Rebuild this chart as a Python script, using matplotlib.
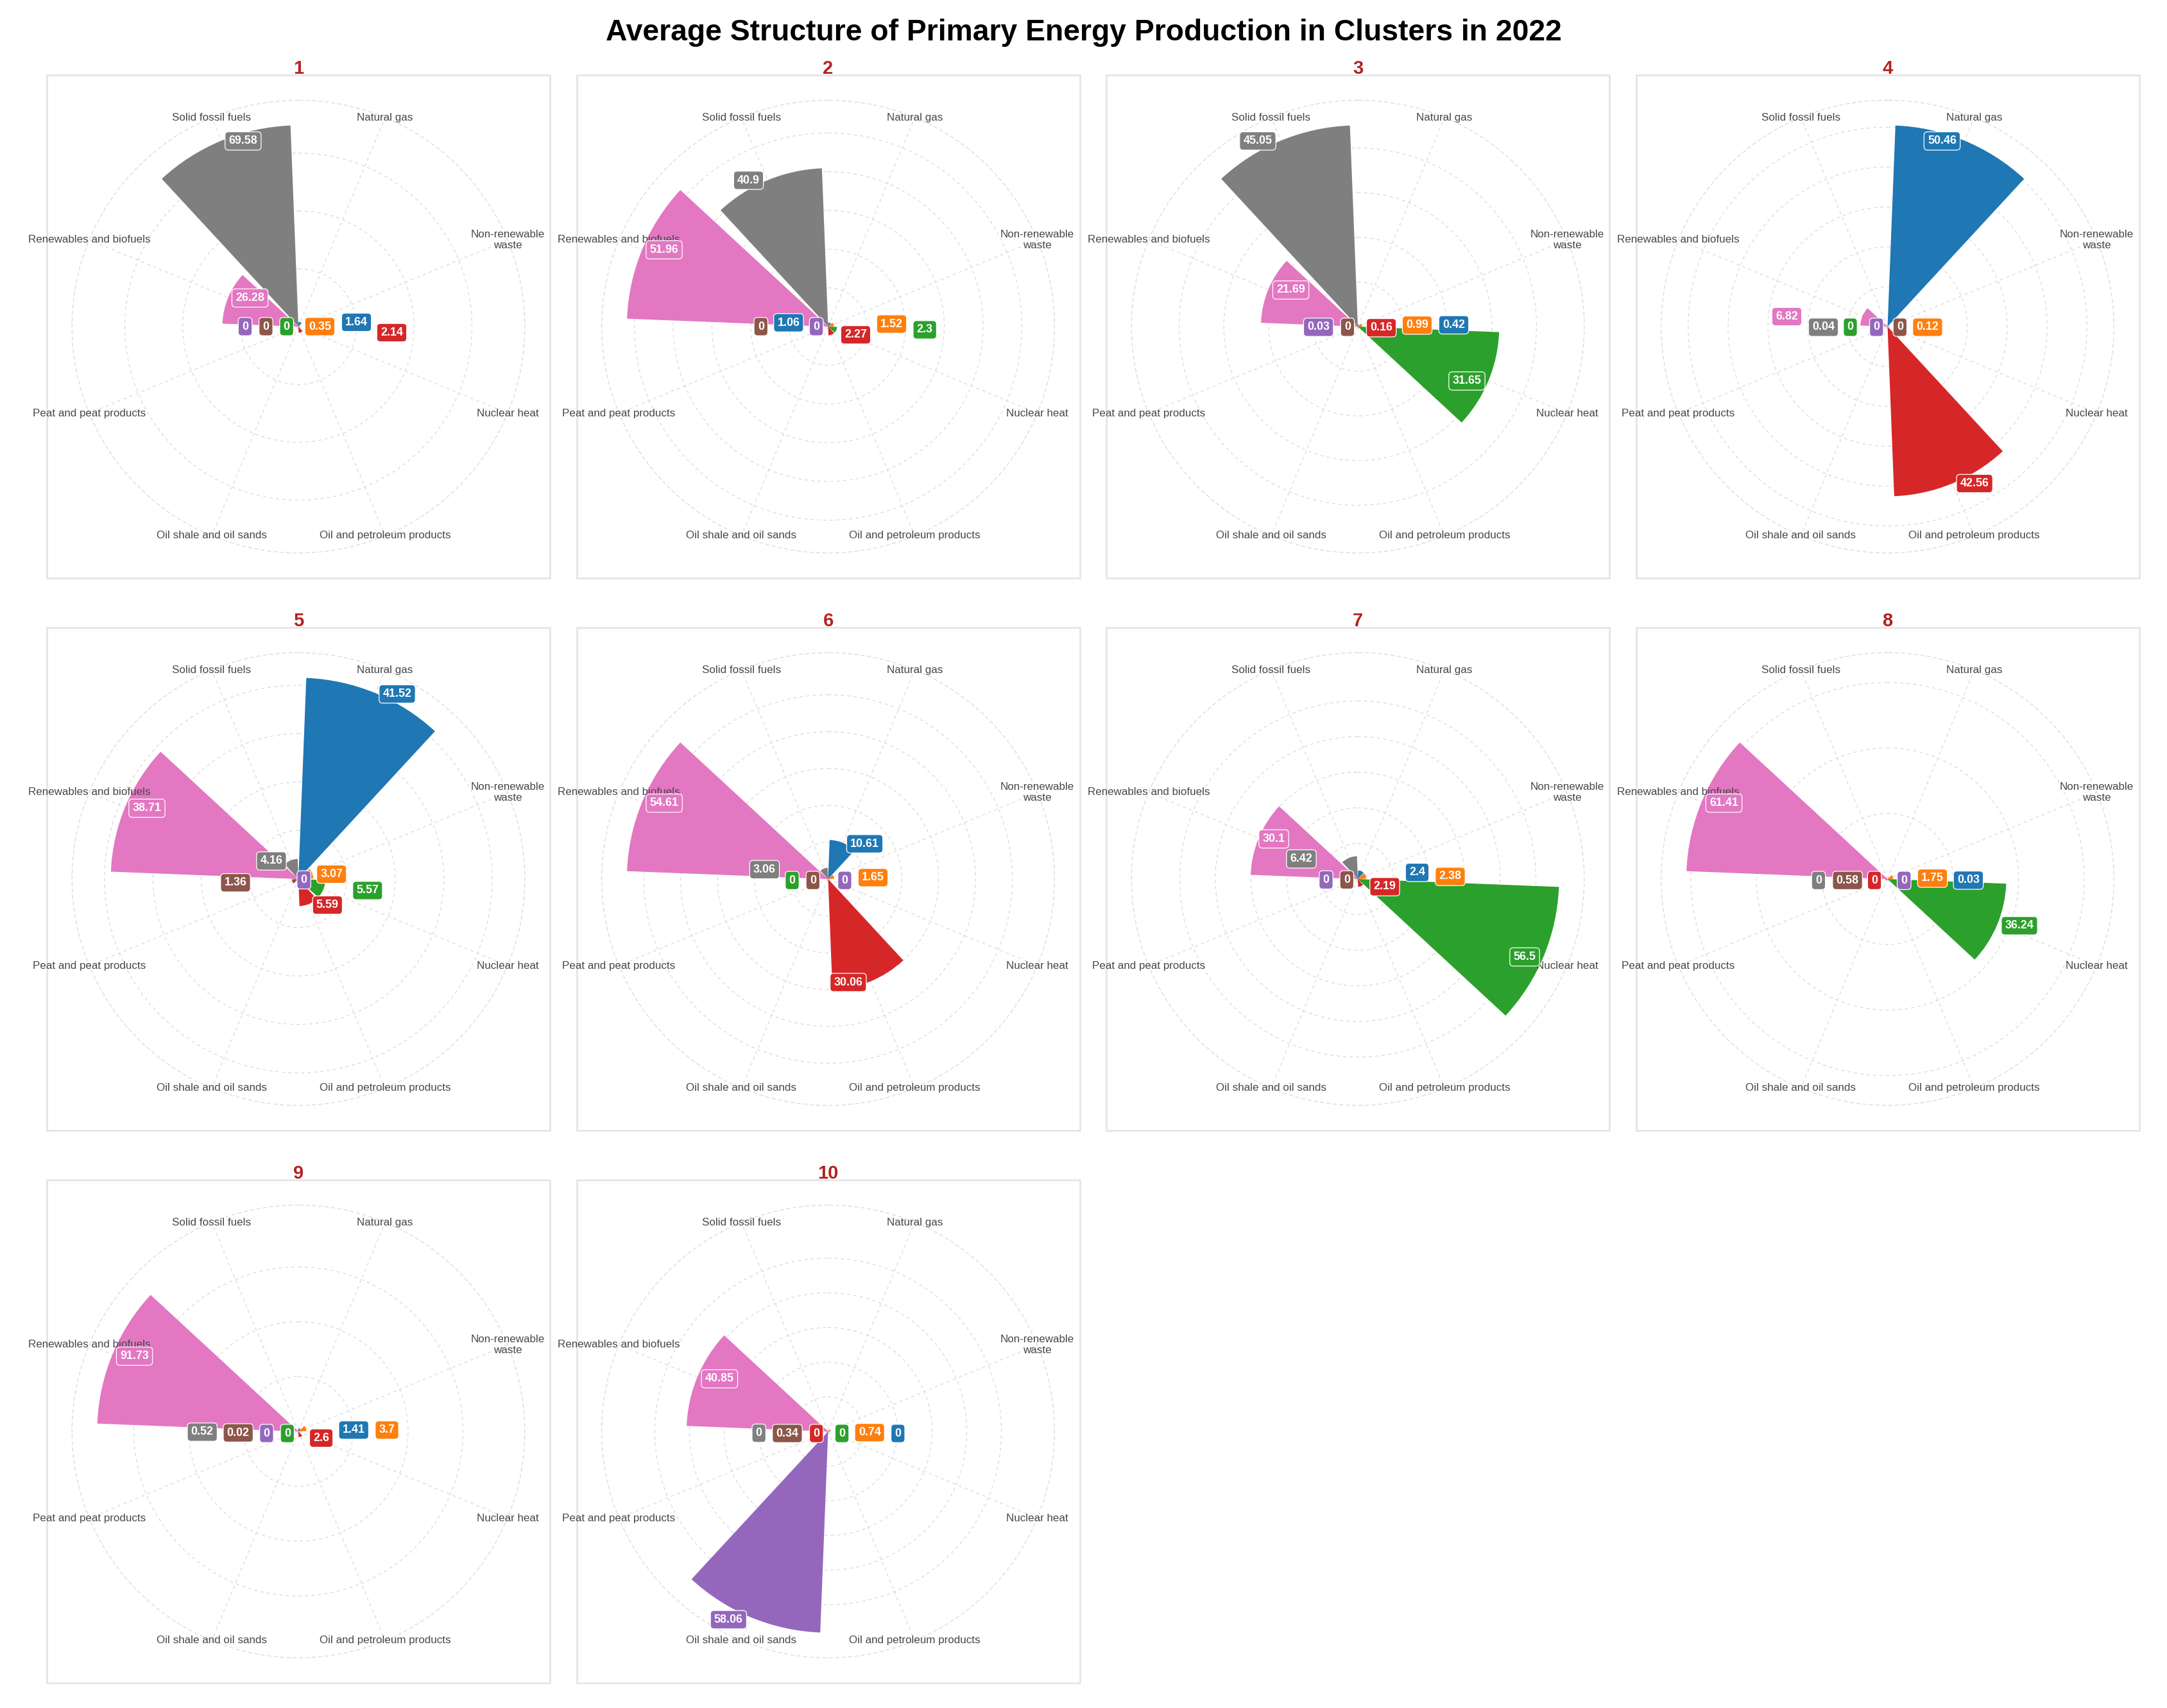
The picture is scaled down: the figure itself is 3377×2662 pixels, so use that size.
import numpy as np
import matplotlib
matplotlib.use("Agg")
import matplotlib.pyplot as plt
from matplotlib.patches import Rectangle

plt.rcParams['font.family'] = ['Liberation Sans', 'DejaVu Sans']

# sources, in the order they go round each chart (clockwise from the top)
categories = ["Natural gas", "Non-renewable\nwaste", "Nuclear heat",
              "Oil and petroleum products", "Oil shale and oil sands",
              "Peat and peat products", "Renewables and biofuels",
              "Solid fossil fuels"]
colors = ["#1f77b4", "#ff7f0e", "#2ca02c", "#d62728", "#9467bd",
          "#8c564b", "#e377c2", "#7f7f7f"]

# average share (%) per cluster
cluster_1 = [1.64, 0.35, 0, 2.14, 0, 0, 26.28, 69.58]
cluster_2 = [1.06, 1.52, 2.3, 2.27, 0, 0, 51.96, 40.9]
cluster_3 = [0.42, 0.99, 31.65, 0.16, 0.03, 0, 21.69, 45.05]
cluster_4 = [50.46, 0.12, 0, 42.56, 0, 0, 6.82, 0.04]
cluster_5 = [41.52, 3.07, 5.57, 5.59, 0, 1.36, 38.71, 4.16]
cluster_6 = [10.61, 1.65, 0, 30.06, 0, 0, 54.61, 3.06]
cluster_7 = [2.4, 2.38, 56.5, 2.19, 0, 0, 30.1, 6.42]
cluster_8 = [0.03, 1.75, 36.24, 0, 0, 0.58, 61.41, 0]
cluster_9 = [1.41, 3.7, 0, 2.6, 0, 0.02, 91.73, 0.52]
cluster_10 = [0, 0.74, 0, 0, 58.06, 0.34, 40.85, 0]
clusters = [cluster_1, cluster_2, cluster_3, cluster_4, cluster_5,
            cluster_6, cluster_7, cluster_8, cluster_9, cluster_10]

# radial grid step of each panel
r_steps = [20, 10, 10, 10, 10, 10, 10, 20, 25, 10]

# where the repelled value labels ended up: offset from the centre, px at 300 dpi
label_offsets = [
    [(90.5, 6.7), (33.4, 0), (-18.3, 0), (145.5, -9.4), (-83, 0), (-50.6, 0), (-75.4, 44.6), (-86.2, 289.3)],
    [(-61.6, 6), (99, 4), (150.7, -5), (43, -12.8), (-18.4, 0), (-104.7, 0), (-255.5, 119.7), (-124, 228)],
    [(149.5, 2.7), (92.5, 2.2), (170, -84.8), (36.6, -1.8), (-61.3, -1), (-16.1, -1), (-104.4, 57), (-156, 289.3)],
    [(85, 289.3), (62.4, -1), (-58, -1), (135.6, -244.6), (-17.2, -1), (19.4, -1), (-157, 15.6), (-100, -1)],
    [(154, 288.4), (51.7, 7.6), (107.8, -17.9), (45.3, -40.6), (8.6, -1.3), (-98, -5.8), (-236, 110.3), (-42, 28.1)],
    [(57.1, 54.9), (70, 2.2), (-56, -2.2), (31.3, -161.2), (25.9, -2.2), (-23.7, -2.2), (-255.4, 118.3), (-99.1, 14.7)],
    [(92.5, 10.3), (144, 4), (260, -121.4), (42, -12), (-49.5, -1.3), (-17.2, -1.3), (-131, 62.5), (-88, 31.3)],
    [(125.9, -1.8), (70, 1.3), (205.5, -72.8), (-20.4, -2.2), (25.8, -2.2), (-62.4, -2.2), (-255, 118.3), (-107.6, -2.2)],
    [(86.2, 2.2), (138, 2.2), (-17.2, -3.1), (35.6, -10.3), (-49.6, -3.1), (-93.8, -2.2), (-255.4, 117.4), (-149.8, -1)],
    [(108.8, -3.1), (64.7, -1.8), (21.6, -3.1), (-18.3, -3.1), (-155.2, -293.3), (-63.6, -3.1), (-169.2, 82.1), (-107.8, -2.7)],
]

W, H, DPI = 3377, 2662, 300
fig = plt.figure(figsize=(W / DPI, H / DPI), dpi=DPI)

PANEL = 784          # frame size, px
X0, Y0 = 73, 117     # top-left of first frame
DX, DY = 825.5, 861  # spacing between frames
GRID = "#D9D9D9"
DASH = (0, (4, 4))

n = len(categories)
step = 2 * np.pi / n
theta = (np.arange(n) + 0.5) * step

for i, vals in enumerate(clusters):
    row, col = divmod(i, 4)
    left = X0 + col * DX
    top = Y0 + row * DY
    cx, cy = left + PANEL / 2, top + PANEL / 2

    fig.add_artist(Rectangle((left / W, 1 - (top + PANEL) / H), PANEL / W, PANEL / H,
                             transform=fig.transFigure, fill=False,
                             edgecolor="#E3E3E3", lw=0.6, zorder=0))
    fig.text(cx / W, 1 - (top - 2) / H, str(i + 1), ha="center", va="baseline",
             fontsize=7, fontweight="bold", color="#B22222")

    rad = 0.45 * PANEL
    ax = fig.add_axes([(cx - rad) / W, 1 - (cy + rad) / H, 2 * rad / W, 2 * rad / H],
                      projection="polar")
    ax.set_theta_zero_location("N")
    ax.set_theta_direction(-1)
    vmax = max(vals)
    rmax = vmax * 0.45 / 0.4
    ax.set_ylim(0, rmax)
    ax.set_axisbelow(True)
    ax.patch.set_alpha(0)

    ax.bar(theta, vals, width=0.9 * step, color=colors, linewidth=0, zorder=2)

    ax.set_xticks(theta)
    ax.set_xticklabels([])
    ax.set_yticks(np.arange(r_steps[i], vmax + 1e-9, r_steps[i]))
    ax.set_yticklabels([])
    ax.tick_params(length=0)
    ax.grid(True, color=GRID, lw=0.3, linestyle=DASH)
    sp = ax.spines["polar"]
    sp.set_color(GRID)
    sp.set_linewidth(0.3)
    sp.set_linestyle(DASH)

    for t, name in zip(theta, categories):
        ax.text(t, rmax, name, ha="center", va="center", fontsize=4.1,
                color="#474747", multialignment="center", linespacing=1.15, zorder=3)

    for v, c, (ox, oy) in zip(vals, colors, label_offsets[i]):
        ax.annotate(f"{v:g}", xy=(0, 0), xytext=(ox * 72 / DPI, oy * 72 / DPI),
                    textcoords="offset points", ha="center", va="center",
                    fontsize=4.3, fontweight="bold", color="white", zorder=5,
                    bbox=dict(boxstyle="round,pad=0.32,rounding_size=0.3",
                              fc=c, ec="white", lw=0.3))

fig.text(0.5, 1 - 62.7 / H, "Average Structure of Primary Energy Production in Clusters in 2022",
         ha="center", va="baseline", fontsize=11.1, fontweight="bold")

fig.savefig("out.png", dpi=DPI, facecolor="white")
